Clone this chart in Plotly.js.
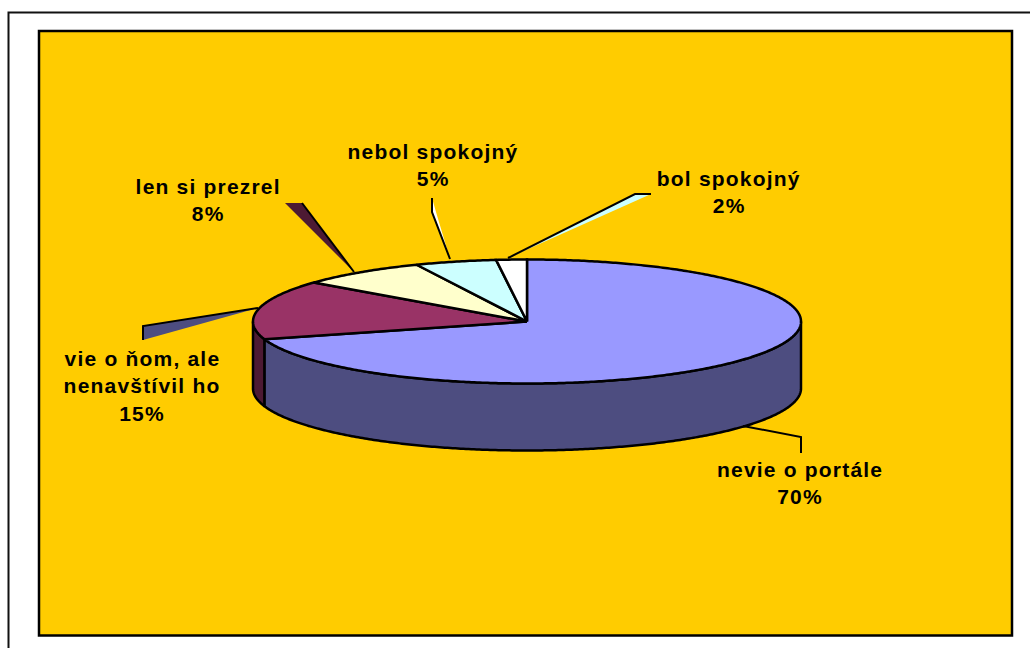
<!DOCTYPE html>
<html>
<head>
<meta charset="utf-8">
<script src="https://cdn.plot.ly/plotly-3.0.1.min.js"></script>
<style>html,body{margin:0;padding:0;background:#fff;overflow:hidden}#c{width:1030px;height:648px}
.annotation text{letter-spacing:1.2px}</style>
</head>
<body>
<div id="c"></div>
<script>
// Data (clockwise from 12 o'clock)
const categories = ["nevie o portále", "vie o ňom, ale nenavštívil ho", "len si prezrel", "nebol spokojný", "bol spokojný"];
const values = [70.4, 15.4, 7.6, 4.8, 1.8];
const topColors = ["#9999FF", "#993366", "#FFFFCC", "#CCFFFF", "#FFFFFF"];
const wallColors = ["#4D4D80", "#4D1A33", "#808066", "#668080", "#808080"];
const labelLines = [["nevie o portále"], ["vie o ňom, ale", "nenavštívil ho"], ["len si prezrel"], ["nebol spokojný"], ["bol spokojný"]];
const labelX = [800, 142, 208, 433, 729];
const labelY = [469, 358, 186, 151, 178];
const lineGap = 27.5;

// Pie projection
const cx = 527, cy = 321.5, rx = 274, ry = 62, depth = 67;
const px = a => cx + rx * Math.sin(a);
const py = (a, d) => cy - ry * Math.cos(a) + (d || 0);
const total = values.reduce((s, v) => s + v, 0);

const traces = [];
function poly(xs, ys, fill) {
  traces.push({
    type: "scatter", mode: "lines", x: xs, y: ys, fill: "toself", fillcolor: fill,
    line: {color: "#000", width: 2.5, simplify: false}, hoverinfo: "skip", showlegend: false
  });
}
function arc(a0, a1) {
  const n = Math.max(2, Math.ceil(Math.abs(a1 - a0) / 0.01));
  const out = [];
  for (let i = 0; i <= n; i++) out.push(a0 + (a1 - a0) * i / n);
  return out;
}

// Slice angles
const starts = [], ends = [];
let acc = 0;
values.forEach(v => { starts.push(acc / total * 2 * Math.PI); acc += v; ends.push(acc / total * 2 * Math.PI); });

// Side walls: only the part of each slice on the near half of the ellipse
values.forEach((v, i) => {
  const a0 = Math.max(starts[i], Math.PI / 2), a1 = Math.min(ends[i], 3 * Math.PI / 2);
  if (a1 <= a0) return;
  const as = arc(a0, a1), back = as.slice().reverse();
  poly(as.map(a => px(a)).concat(back.map(a => px(a)), [px(a0)]),
       as.map(a => py(a)).concat(back.map(a => py(a, depth)), [py(a0)]),
       wallColors[i]);
});

// Top faces
values.forEach((v, i) => {
  const as = arc(starts[i], ends[i]);
  poly([cx].concat(as.map(a => px(a)), [cx]), [cy].concat(as.map(a => py(a)), [cy]), topColors[i]);
});

// Labels: each line placed separately to keep the reference's line spacing
const annotations = [];
categories.forEach((c, i) => {
  const lines = labelLines[i].concat([Math.round(values[i] / total * 100) + "%"]);
  lines.forEach((t, j) => annotations.push({
    x: labelX[i], y: labelY[i] + j * lineGap, xref: "x", yref: "y", text: "<b>" + t + "</b>",
    showarrow: false, xanchor: "center", yanchor: "middle",
    font: {family: "Liberation Sans, Arial, sans-serif", size: 21, color: "#000"}
  }));
});

const clear = "rgba(0,0,0,0)";
const leader = {color: "#000", width: 2};
const none = {width: 0};
const shapes = [
  {type: "rect", layer: "below", xref: "x", yref: "y", x0: 8.5, y0: 12.5, x1: 1060, y1: 680, fillcolor: "#fff", line: {color: "#111", width: 2}},
  {type: "rect", layer: "below", xref: "x", yref: "y", x0: 39, y0: 31, x1: 1012, y1: 635.5, fillcolor: "#FFCC00", line: {color: "#000", width: 2.5}},
  // leader wedges
  {type: "path", xref: "x", yref: "y", path: "M285,203 L302,203 L354,272 Z", fillcolor: "#4D1A33", line: none},
  {type: "path", xref: "x", yref: "y", path: "M302,203 L354,272", fillcolor: clear, line: leader},
  {type: "path", xref: "x", yref: "y", path: "M143,326 L143,340 L258,308 Z", fillcolor: "#4D4D80", line: none},
  {type: "path", xref: "x", yref: "y", path: "M143,340 L143,326 L258,308", fillcolor: clear, line: leader},
  {type: "path", xref: "x", yref: "y", path: "M432,198 L436,212 L450,259 L432,212 Z", fillcolor: "#fff", line: none},
  {type: "path", xref: "x", yref: "y", path: "M432,198 L432,212 L450,259", fillcolor: clear, line: leader},
  {type: "path", xref: "x", yref: "y", path: "M508,258 L635,194 L651,194 Z", fillcolor: "#CCFFFF", line: none},
  {type: "path", xref: "x", yref: "y", path: "M508,258 L635,194 L651,194", fillcolor: clear, line: leader},
  {type: "path", xref: "x", yref: "y", path: "M743,426 L801,437 L801,453", fillcolor: clear, line: leader}
];

const axis = {visible: false, showgrid: false, zeroline: false, fixedrange: true};
Plotly.newPlot("c", traces, {
  width: 1030, height: 648,
  margin: {l: 0, r: 0, t: 0, b: 0},
  paper_bgcolor: "#fff", plot_bgcolor: "rgba(0,0,0,0)",
  showlegend: false,
  xaxis: Object.assign({range: [0, 1030]}, axis),
  yaxis: Object.assign({range: [648, 0]}, axis),
  shapes: shapes,
  annotations: annotations
}, {displayModeBar: false, staticPlot: true});
</script>
</body>
</html>
